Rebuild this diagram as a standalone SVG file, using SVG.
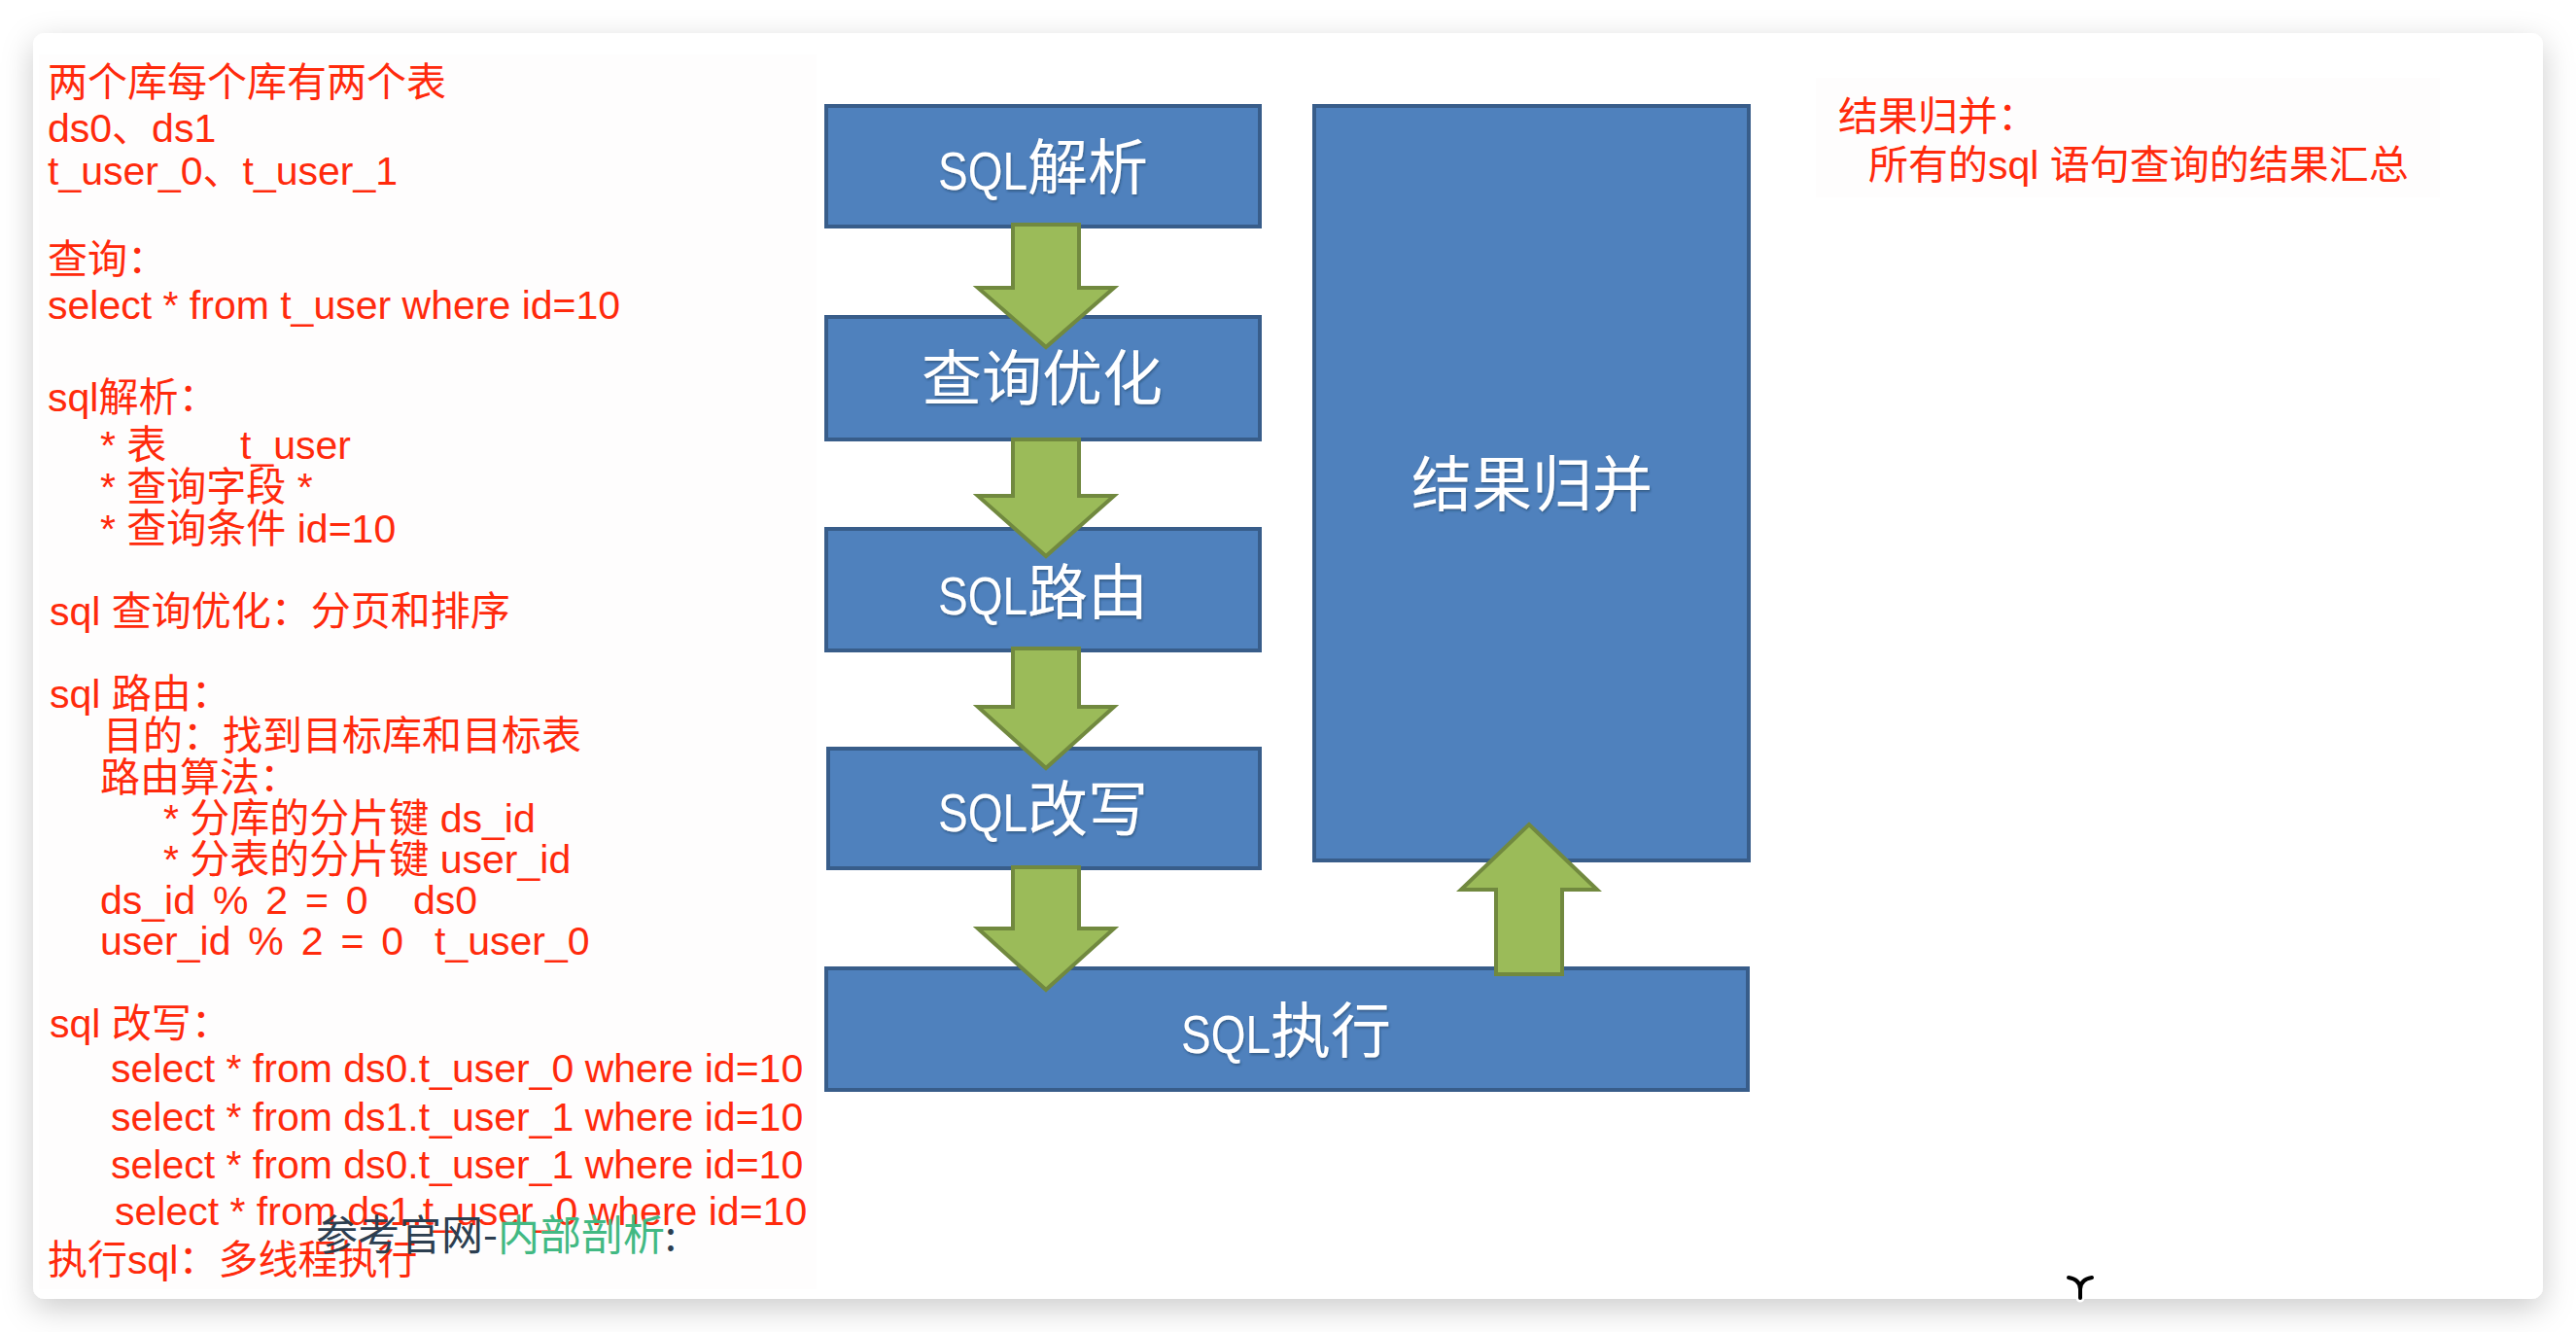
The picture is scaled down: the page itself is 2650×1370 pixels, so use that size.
<svg xmlns="http://www.w3.org/2000/svg" width="2650" height="1370" viewBox="0 0 2650 1370">
<defs>
<filter id="cardShadow" x="-5%" y="-5%" width="110%" height="112%">
<feDropShadow dx="0" dy="10" stdDeviation="16" flood-color="#000" flood-opacity="0.2"/>
</filter>
<filter id="txtShadow" x="-10%" y="-20%" width="120%" height="140%">
<feDropShadow dx="1" dy="2" stdDeviation="1" flood-color="#1f3550" flood-opacity="0.45"/>
</filter>
</defs>
<style>
.note{font-family:"Liberation Sans","Noto Sans CJK SC",sans-serif;font-size:41px;fill:#ff2a0c;white-space:pre}
.wide{word-spacing:6.5px}
.ref{font-family:"Noto Sans CJK SC","Liberation Sans",sans-serif;font-size:43px;fill:#2c3e50}
.refg{fill:#42b983}
.box{fill:#4f81bd;stroke:#385d8a;stroke-width:4}
.lbl{font-family:"Noto Sans CJK SC","Liberation Sans",sans-serif;font-size:62px;fill:#ffffff;filter:url(#txtShadow)}
.sql{font-family:"Liberation Sans",sans-serif;font-size:56px}
.arrow{fill:#9bbb59;stroke:#71893f;stroke-width:4;stroke-linejoin:miter}
</style>
<rect x="0" y="0" width="2650" height="1370" fill="#ffffff"/>
<rect x="34" y="34" width="2582" height="1302" rx="12" fill="#ffffff" filter="url(#cardShadow)"/>
<rect x="40" y="56" width="800" height="1270" fill="#fefdfd"/>
<rect x="1868" y="80" width="642" height="123" fill="#fefdfd"/>

<g id="notes">
<text class="note" x="49" y="99">两个库每个库有两个表</text>
<text class="note" x="49" y="146">ds0、ds1</text>
<text class="note" x="49" y="190">t_user_0、t_user_1</text>
<text class="note" x="49" y="281">查询：</text>
<text class="note" x="49" y="328">select * from t_user where id=10</text>
<text class="note" x="49" y="423">sql解析：</text>
<text class="note" x="103" y="472">* 表<tspan x="247">t_user</tspan></text>
<text class="note" x="103" y="515">* 查询字段 *</text>
<text class="note" x="103" y="558">* 查询条件 id=10</text>
<text class="note" x="51" y="643">sql 查询优化：分页和排序</text>
<text class="note" x="51" y="728">sql 路由：</text>
<text class="note" x="106" y="771">目的：找到目标库和目标表</text>
<text class="note" x="103" y="814">路由算法：</text>
<text class="note" x="168" y="856">* 分库的分片键 ds_id</text>
<text class="note" x="168" y="898">* 分表的分片键 user_id</text>
<text class="note" x="103" y="940"><tspan class="wide">ds_id % 2 = 0</tspan><tspan x="425">ds0</tspan></text>
<text class="note" x="103" y="982"><tspan class="wide">user_id % 2 = 0</tspan><tspan x="447">t_user_0</tspan></text>
<text class="note" x="51" y="1067">sql 改写：</text>
<text class="note" x="114" y="1113">select * from ds0.t_user_0 where id=10</text>
<text class="note" x="114" y="1163">select * from ds1.t_user_1 where id=10</text>
<text class="note" x="114" y="1212">select * from ds0.t_user_1 where id=10</text>
<text class="note" x="118" y="1260">select * from ds1.t_user_0 where id=10</text>
<text class="note" x="49" y="1310">执行sql：多线程执行</text>
<text class="ref" x="325" y="1286">参考官网-<tspan class="refg">内部剖析</tspan>:</text>
<text class="note" x="1891" y="134">结果归并：</text>
<text class="note" x="1922" y="184">所有的sql 语句查询的结果汇总</text>
</g>

<g id="sql-parse">
<rect class="box" x="850" y="109" width="446" height="124"/>
<text class="lbl" x="965" y="195"><tspan class="sql" textLength="92" lengthAdjust="spacingAndGlyphs">SQL</tspan>解析</text>
</g>
<g id="query-optimize">
<rect class="box" x="850" y="326" width="446" height="126"/>
<text class="lbl" x="948" y="412">查询优化</text>
</g>
<g id="sql-route">
<rect class="box" x="850" y="544" width="446" height="125"/>
<text class="lbl" x="965" y="632"><tspan class="sql" textLength="92" lengthAdjust="spacingAndGlyphs">SQL</tspan>路由</text>
</g>
<g id="sql-rewrite">
<rect class="box" x="852" y="770" width="444" height="123"/>
<text class="lbl" x="965" y="855"><tspan class="sql" textLength="92" lengthAdjust="spacingAndGlyphs">SQL</tspan>改写</text>
</g>
<g id="sql-execute">
<rect class="box" x="850" y="996" width="948" height="125"/>
<text class="lbl" x="1215" y="1083"><tspan class="sql" textLength="92" lengthAdjust="spacingAndGlyphs">SQL</tspan>执行</text>
</g>
<g id="result-merge">
<rect class="box" x="1352" y="109" width="447" height="776"/>
<text class="lbl" x="1452" y="521">结果归并</text>
</g>

<g id="connectors">
<path class="arrow" d="M1042,231 L1110,231 L1110,296 L1146,296 L1076,357 L1006,296 L1042,296 Z"/>
<path class="arrow" d="M1042,452 L1110,452 L1110,510 L1146,510 L1076,572 L1006,510 L1042,510 Z"/>
<path class="arrow" d="M1042,667 L1110,667 L1110,727 L1146,727 L1076,790 L1006,727 L1042,727 Z"/>
<path class="arrow" d="M1042,892 L1110,892 L1110,955 L1146,955 L1076,1018 L1006,955 L1042,955 Z"/>
<path class="arrow" d="M1539,1002 L1607,1002 L1607,915 L1643,915 L1573,848 L1503,915 L1539,915 Z"/>
</g>

<g id="cursor" fill="none" stroke-linecap="round">
<path d="M2128,1314 Q2140,1316 2140,1326 M2152,1314 Q2140,1316 2140,1326 L2140,1335" stroke="#ffffff" stroke-width="9"/>
<path d="M2128,1314 Q2140,1316 2140,1326 M2152,1314 Q2140,1316 2140,1326 L2140,1335" stroke="#000000" stroke-width="4"/>
</g>
</svg>
